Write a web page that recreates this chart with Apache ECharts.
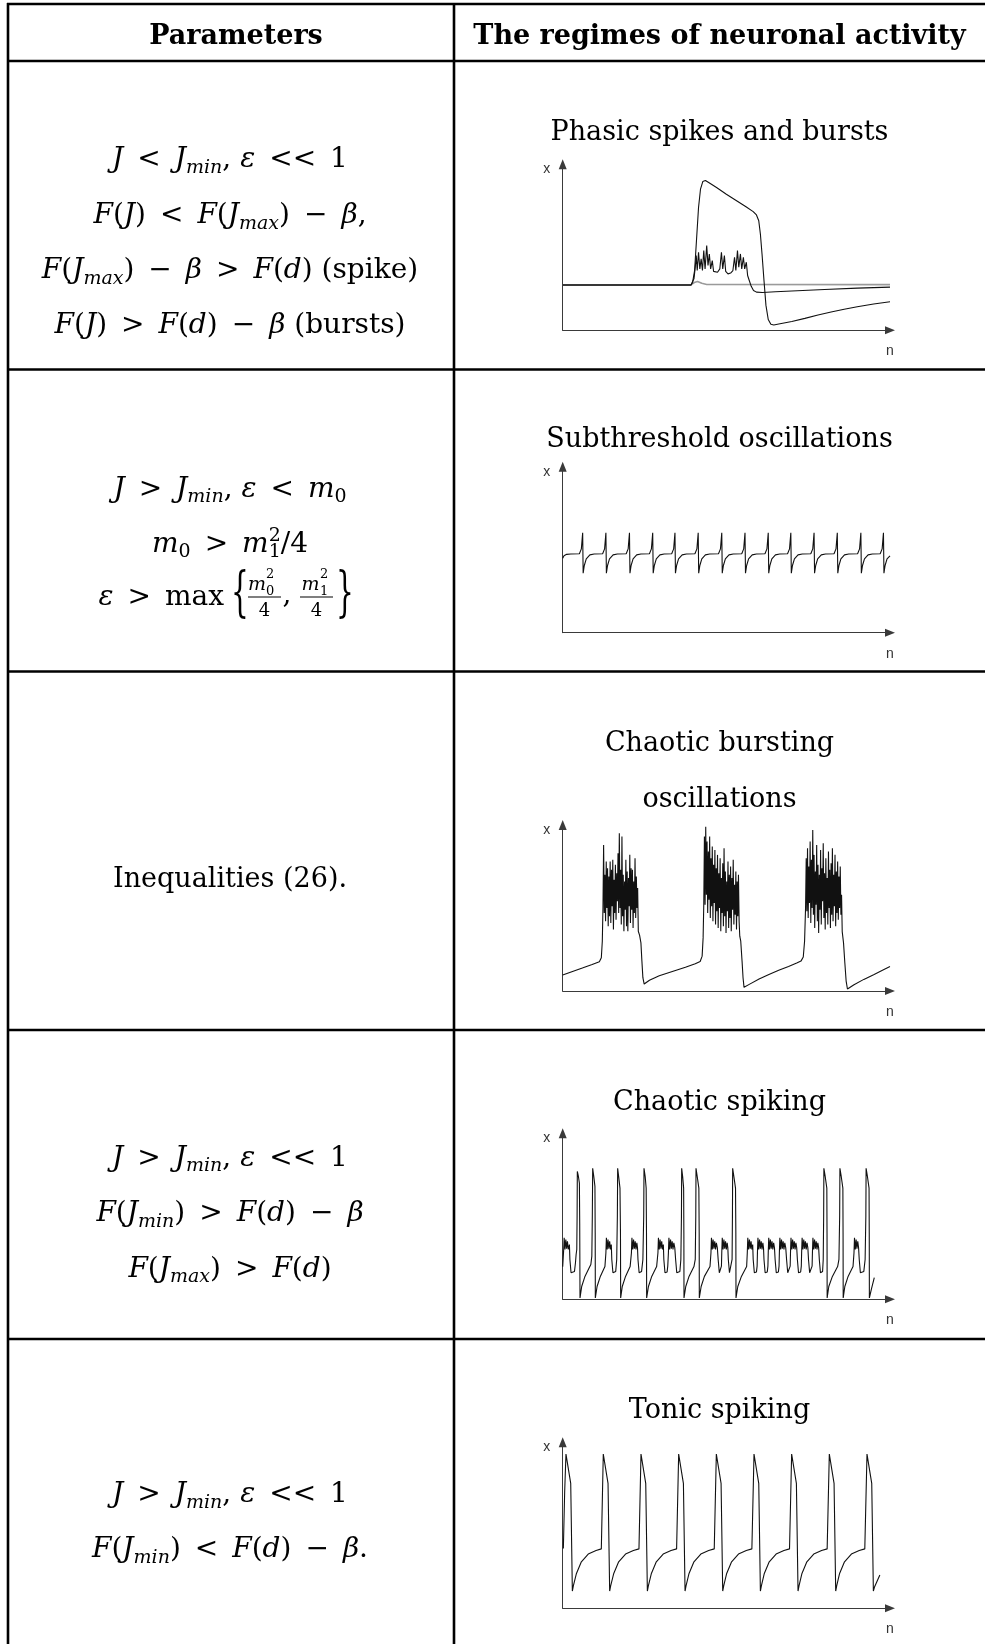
<!DOCTYPE html>
<html>
<head>
<meta charset="utf-8">
<title>The regimes of neuronal activity</title>
<script src="https://cdn.jsdelivr.net/npm/echarts@6/dist/echarts.min.js"></script>
<style>html,body{margin:0;padding:0;background:#fff;}</style>
</head>
<body>
<div id="main" style="width:985px;height:1644px;"></div>
<script type="text/javascript">
// regime titles (right column)
var regimeTitles = ['Phasic spikes and bursts', 'Subthreshold oscillations', 'Chaotic bursting\noscillations', 'Chaotic spiking', 'Tonic spiking'];

// traces, [n, x] in axis units 0..100
var phasicPlateau = [[0,27.3],[39.2,27.3],[39.7,29],[40.3,36],[40.9,55],[41.5,74],[42.1,85],[42.8,89.6],[43.6,90.2],[44.6,89],[47,86],[50,82],[53,78.2],[56,74.4],[58.2,71.5],[59.2,69.5],[59.9,66],[60.4,58],[60.9,46],[61.5,30],[62.1,15],[62.8,6.5],[63.6,3.6],[64.5,3.2],[66,3.8],[70,5.3],[74,7.2],[78,9.2],[82,11],[86,12.7],[90,14.2],[95,15.8],[100,17.2]];
var phasicBurst = [[0,27.3],[39.2,27.3],[39.7,28.5],[40.1,31],[40.5,38],[40.8,45],[41.1,36],[41.5,47],[41.9,37],[42.3,43],[42.7,36],[43.1,48],[43.5,37],[44.0,51],[44.4,39],[44.8,46],[45.2,37],[45.7,42],[46.1,35.5],[46.6,34.5],[47.3,35],[48.0,37],[48.5,47],[48.9,37],[49.4,45],[49.8,35.5],[50.5,34],[51.3,34.5],[52.0,36],[52.5,44],[52.9,36],[53.4,48],[53.8,38],[54.3,46],[54.7,37],[55.2,44],[55.6,37],[56.1,41],[56.5,33],[57.0,30],[57.6,26.5],[58.3,24],[59.2,23],[61,22.8],[65,23.2],[70,23.7],[80,24.6],[90,25.4],[100,26]];
var phasicGray = [[0,27.3],[39.2,27.3],[40.2,28.8],[41.2,29.4],[42.5,28.3],[44,27.6],[100,27.5]];

var subthreshold = [[0,44.8],[0.4,46.4],[1.2,47.2],[2.5,47.4],
[5.1,47.6],[5.7,50.5],[6.1,60.2],[6.25,35.8],[6.6,40.5],[7.2,44.5],[8.3,46.9],[9.6,47.4],
[12.2,47.6],[12.8,50.5],[13.2,60.2],[13.35,35.8],[13.7,40.5],[14.3,44.5],[15.4,46.9],[16.7,47.4],
[19.4,47.6],[20.0,50.5],[20.4,60.2],[20.55,35.8],[20.9,40.5],[21.5,44.5],[22.6,46.9],[23.9,47.4],
[26.5,47.6],[27.1,50.5],[27.5,60.2],[27.65,35.8],[28.0,40.5],[28.6,44.5],[29.7,46.9],[31.0,47.4],
[33.3,47.6],[33.9,50.5],[34.3,60.2],[34.45,35.8],[34.8,40.5],[35.4,44.5],[36.5,46.9],[37.8,47.4],
[40.4,47.6],[41.0,50.5],[41.4,60.2],[41.55,35.8],[41.9,40.5],[42.5,44.5],[43.6,46.9],[44.9,47.4],
[47.6,47.6],[48.2,50.5],[48.6,60.2],[48.75,35.8],[49.1,40.5],[49.7,44.5],[50.8,46.9],[52.1,47.4],
[54.7,47.6],[55.3,50.5],[55.7,60.2],[55.85,35.8],[56.2,40.5],[56.8,44.5],[57.9,46.9],[59.2,47.4],
[61.8,47.6],[62.4,50.5],[62.8,60.2],[62.95,35.8],[63.3,40.5],[63.9,44.5],[65.0,46.9],[66.3,47.4],
[68.7,47.6],[69.3,50.5],[69.7,60.2],[69.85,35.8],[70.2,40.5],[70.8,44.5],[71.9,46.9],[73.2,47.4],
[75.8,47.6],[76.4,50.5],[76.8,60.2],[76.95,35.8],[77.3,40.5],[77.9,44.5],[79.0,46.9],[80.3,47.4],
[82.9,47.6],[83.5,50.5],[83.9,60.2],[84.05,35.8],[84.4,40.5],[85.0,44.5],[86.1,46.9],[87.4,47.4],
[90.1,47.6],[90.7,50.5],[91.1,60.2],[91.25,35.8],[91.6,40.5],[92.2,44.5],[93.3,46.9],[94.6,47.4],
[97.0,47.6],[97.6,50.5],[98.0,60.2],[98.15,35.8],[98.5,40.5],[99.1,44.5],[100,46.3]];

var chaoticBursting = [[0,9.6],[3,11.8],[6,13.8],[9,15.9],[11.2,17.6],[11.8,20],[12.1,30],[12.3,50],
[12.5,88],[12.7,47],[12.9,70],[13.1,42],[13.3,78],[13.5,50],[13.7,74],[13.9,39],[14.1,69],[14.3,45],[14.5,78],[14.7,41],[14.9,73],[15.1,51],[15.3,79],[15.5,37],[15.7,67],[15.9,47],[16.1,76],[16.3,43],[16.5,71],[16.7,54],[16.9,83],[17.1,47],[17.3,95],[17.5,50],[17.7,73],[17.9,40],[18.1,93],[18.3,45],[18.5,70],[18.7,36],[18.9,66],[19.1,49],[19.3,79],[19.5,39],[19.7,72],[19.9,36],[20.1,68],[20.3,51],[20.5,82],[20.7,41],[20.9,74],[21.1,49],[21.3,73],[21.5,38],[21.7,66],[21.9,47],[22.1,80],[22.3,44],[22.5,69],[22.7,50],[22.9,62],
[23.1,36],[23.5,33.5],[23.9,29],[24.2,18],[24.5,8],[24.9,4.2],
[26.5,6.5],[29.5,9.2],[33.5,11.8],[37.5,14.3],[40.5,16.4],[42.0,17.8],[42.6,21],[42.9,32],[43.1,52],
[43.3,93],[43.5,52],[43.7,99],[43.9,58],[44.1,90],[44.3,47],[44.5,84],[44.7,55],[44.9,93],[45.1,44],[45.3,80],[45.5,51],[45.7,87],[45.9,42],[46.1,76],[46.3,53],[46.5,85],[46.7,40],[46.9,74],[47.1,48],[47.3,82],[47.5,38],[47.7,71],[47.9,50],[48.1,80],[48.3,36],[48.5,68],[48.7,47],[48.9,77],[49.1,39],[49.3,86],[49.5,45],[49.7,72],[49.9,35],[50.1,66],[50.3,48],[50.5,78],[50.7,38],[50.9,70],[51.1,44],[51.3,75],[51.5,36],[51.7,68],[51.9,49],[52.1,79],[52.3,40],[52.5,64],[52.7,46],[52.9,72],[53.1,37],[53.3,66],[53.5,45],[53.7,70],[53.9,42],
[54.1,33],[54.4,30],[54.8,18],[55.1,8],[55.4,2.2],
[57,4],[60,7.2],[63,10],[66,12.5],[69,14.8],[71.5,16.8],[72.8,18],[73.5,20.5],[73.9,30],[74.2,50],
[74.4,80],[74.6,48],[74.8,86],[75.0,44],[75.2,75],[75.4,53],[75.6,90],[75.8,41],[76.0,79],[76.2,50],[76.4,97],[76.6,46],[76.8,82],[77.0,38],[77.2,72],[77.4,52],[77.6,88],[77.8,42],[78.0,76],[78.2,35],[78.4,70],[78.6,49],[78.8,85],[79.0,40],[79.2,74],[79.4,54],[79.6,89],[79.8,44],[80.0,71],[80.2,37],[80.4,80],[80.6,47],[80.8,68],[81.0,40],[81.2,84],[81.4,50],[81.6,73],[81.8,38],[82.0,77],[82.2,46],[82.4,86],[82.6,42],[82.8,70],[83.0,51],[83.2,82],[83.4,39],[83.6,72],[83.8,47],[84.0,78],[84.2,43],[84.4,69],[84.6,50],[84.8,75],[85.0,46],[85.2,58],
[85.4,35.8],[85.8,29],[86.2,17],[86.6,6],[87.0,1.2],
[89,3.8],[92,7],[95,9.8],[98,12.8],[100,14.7]];

var chaoticSpiking = [[0,19.7],
[0.3,30],[0.45,37],[0.7,30],[0.95,36],[1.2,30.5],[1.45,35],[1.7,30],[2.05,33],[2.2,24],[2.55,16],
[3.6,16.8],[3.9,22],[4.1,27],[4.3,30],[4.4,50],[4.47,77],[4.8,74],[5.1,70],[5.2,45],[5.29,0.8],
[5.8,7.7],[6.8,13.8],[8.1,19],[8.6,21],[8.9,26],[9.05,50],[9.16,78.9],[9.5,74],[9.85,68],[9.93,40],[9.97,0.8],
[10.5,7.7],[11.5,13.8],[12.9,19.7],
[13.2,28],[13.35,37],[13.6,30],[13.85,36],[14.1,30.5],[14.35,35],[14.6,30],[14.85,33],[15.0,24],[15.35,16],
[16.2,16.8],[16.5,24],[16.7,50],[16.79,78.9],[17.1,74],[17.5,67],[17.65,40],[17.71,0.8],
[18.2,7.7],[19.2,13.8],[20.6,19.7],
[21.0,28],[21.15,37],[21.4,30],[21.65,36],[21.9,30.5],[22.15,35],[22.4,30],[22.65,34],[22.85,31],[23.0,24],[23.35,16],
[24.1,16.8],[24.5,24],[24.75,50],[24.84,78.9],[25.2,74],[25.5,67],[25.6,40],[25.65,0.8],
[26.2,7.7],[27.2,13.8],[28.7,19.7],
[29.1,28],[29.25,37],[29.5,30],[29.75,36],[30.0,30.5],[30.25,35],[30.5,30],[30.75,33],[30.9,24],[31.25,16],
[31.9,16.5],[32.1,20],
[32.3,28],[32.45,37],[32.7,30],[32.95,36],[33.2,30.5],[33.45,35],[33.7,30],[33.95,34],[34.25,31],[34.5,24],[34.85,16],
[35.8,16.8],[36.1,24],[36.28,50],[36.35,78.9],[36.65,74],[36.95,67],[37.02,40],[37.06,0.8],
[37.6,7.7],[38.6,13.8],[40.1,19.7],[40.5,24],[40.66,50],[40.73,78.9],[41.1,74],[41.6,67],[41.7,40],[41.74,0.8],
[42.3,7.7],[43.3,13.8],[45.0,19.7],
[45.3,28],[45.45,37],[45.7,30],[45.95,36],[46.2,30.5],[46.45,35],[46.7,30],[46.95,34],[47.25,31],[47.5,24],[47.85,16],
[48.3,16.5],[48.5,20],
[48.6,28],[48.75,37],[49.0,30],[49.25,36],[49.5,30.5],[49.75,35],[50.0,30],[50.25,34],[50.45,31],[50.6,24],[50.95,16],
[51.5,16.8],[51.75,24],[51.86,50],[51.93,78.9],[52.3,74],[52.8,67],[52.9,40],[52.95,0.8],
[53.5,7.7],[54.6,13.8],[56.2,19.7],
[56.4,28],[56.55,37],[56.8,30],[57.05,36],[57.3,30.5],[57.55,35],[57.8,30],[58.05,33],[58.2,24],[58.55,16],
[59.2,16.5],[59.4,20],
[59.5,28],[59.65,37],[59.9,30],[60.15,36],[60.4,30.5],[60.65,35],[60.9,30],[61.15,34],[61.35,31],[61.5,24],[61.85,16],
[62.5,16.5],[62.7,20],
[62.8,28],[62.95,37],[63.2,30],[63.45,36],[63.7,30.5],[63.95,35],[64.2,30],[64.45,34],[64.7,31],[64.9,24],[65.25,16],
[65.9,16.5],[66.1,20],
[66.2,28],[66.35,37],[66.6,30],[66.85,36],[67.1,30.5],[67.35,35],[67.6,30],[67.85,34],[68.15,31],[68.4,24],[68.75,16],
[69.3,16.5],[69.5,20],
[69.6,28],[69.75,37],[70.0,30],[70.25,36],[70.5,30.5],[70.75,35],[71.0,30],[71.25,34],[71.5,31],[71.7,24],[72.05,16],
[72.7,16.5],[72.9,20],
[73.0,28],[73.15,37],[73.4,30],[73.65,36],[73.9,30.5],[74.15,35],[74.4,30],[74.65,34],[74.9,31],[75.1,24],[75.45,16],
[76.0,16.5],[76.2,20],
[76.3,28],[76.45,37],[76.7,30],[76.95,36],[77.2,30.5],[77.45,35],[77.7,30],[77.95,34],[78.2,31],[78.4,24],[78.75,16],
[79.4,16.8],[79.6,24],[79.73,50],[79.8,78.9],[80.2,74],[80.7,67],[80.76,40],[80.8,0.8],
[81.3,7.7],[82.4,13.8],[84.0,19.7],[84.4,24],[84.62,50],[84.7,78.9],[85.1,74],[85.6,67],[85.66,40],[85.7,0.8],
[86.2,7.7],[87.2,13.8],[88.7,19.7],
[89.0,28],[89.15,37],[89.4,30],[89.65,36],[89.9,30.5],[90.15,35],[90.4,31],[90.6,24],[90.95,16],
[92.0,16.8],[92.4,24],[92.62,50],[92.7,78.9],[93.1,74],[93.6,67],[93.66,40],[93.7,0.8],
[94.3,6],[95.2,13]];

var tonicSpiking = [[0.2,36],[0.6,70],[1.0,92.9],[2.45,75.3],[2.95,10.4],[3.25,13.5],[4.2,21],[5.7,28],[7.8,32.7],[10.2,34.8],[11.8,35.8],
[12.1,36.5],[12.4,92.9],[13.85,75.3],[14.35,10.4],[14.65,13.5],[15.6,21],[17.1,28],[19.2,32.7],[21.6,34.8],[23.3,35.8],
[23.62,36.5],[23.92,92.9],[25.37,75.3],[25.87,10.4],[26.17,13.5],[27.1,21],[28.6,28],[30.7,32.7],[33.1,34.8],[34.8,35.8],
[35.13,36.5],[35.43,92.9],[36.88,75.3],[37.38,10.4],[37.68,13.5],[38.6,21],[40.1,28],[42.2,32.7],[44.6,34.8],[46.3,35.8],
[46.64,36.5],[46.94,92.9],[48.39,75.3],[48.89,10.4],[49.19,13.5],[50.1,21],[51.6,28],[53.7,32.7],[56.1,34.8],[57.8,35.8],
[58.15,36.5],[58.45,92.9],[59.9,75.3],[60.4,10.4],[60.7,13.5],[61.6,21],[63.1,28],[65.2,32.7],[67.6,34.8],[69.3,35.8],
[69.65,36.5],[69.95,92.9],[71.4,75.3],[71.9,10.4],[72.2,13.5],[73.1,21],[74.6,28],[76.7,32.7],[79.1,34.8],[80.8,35.8],
[81.16,36.5],[81.46,92.9],[82.91,75.3],[83.41,10.4],[83.71,13.5],[84.6,21],[86.1,28],[88.2,32.7],[90.6,34.8],[92.3,35.8],
[92.67,36.5],[92.97,92.9],[94.42,75.3],[94.92,10.4],[95.3,13],[96.9,20]];

var myChart = echarts.init(document.getElementById('main'), null, {renderer: 'canvas'});

var FF = 'DejaVu Serif';
var R = {
    i:  {fontSize: 28, fontFamily: FF, fontStyle: 'italic', align: 'left'},
    r:  {fontSize: 28, fontFamily: FF, align: 'left'},
    s:  {fontSize: 19, fontFamily: FF, fontStyle: 'italic', align: 'left', padding: [16, 0, 0, 0]},
    sr: {fontSize: 19, fontFamily: FF, align: 'left', padding: [16, 0, 0, 0]},
    z:  {fontSize: 19, fontFamily: FF, align: 'left', padding: [16, 0, 0, 0], width: 0},
    p:  {fontSize: 19, fontFamily: FF, align: 'left', padding: [0, 0, 17, 0]}
};
var S = '\u2002'; // wider gap round relations, as in the typeset original

function mathText(str, x, y) {
    return {type: 'text', x: x, y: y, silent: true,
        style: {text: str, fontSize: 28, fontFamily: FF, fill: '#000', align: 'center', verticalAlign: 'middle', lineHeight: 38, rich: R}};
}
function plain(str, x, y, size, opts) {
    var st = {text: str, fontSize: size, fontFamily: FF, fill: '#000', align: 'center', verticalAlign: 'middle'};
    for (var k in opts) st[k] = opts[k];
    return {type: 'text', x: x, y: y, silent: true, style: st};
}
function hline(y) {
    return {type: 'line', silent: true, shape: {x1: 7, y1: y, x2: 985, y2: y}, style: {stroke: '#000', lineWidth: 2.6}};
}
function vline(x) {
    return {type: 'line', silent: true, shape: {x1: x, y1: 3, x2: x, y2: 1644}, style: {stroke: '#000', lineWidth: 2.6}};
}

var colX = 230, colR = 719.5;
var graphics = [
    hline(4), hline(61), hline(369.5), hline(671.5), hline(1030), hline(1339),
    vline(8), vline(454),
    plain('Parameters', 236, 36.5, 27, {fontWeight: 'bold'}),
    plain('The regimes of neuronal activity', colR, 36.5, 27, {fontWeight: 'bold'}),

    mathText('{i|J}{r|' + S + '<' + S + '}{i|J}{s|min}{r|, }{i|ε}{r|' + S + '<<' + S + '1}', colX, 160),
    mathText('{i|F}{r|(}{i|J}{r|)' + S + '<' + S + '}{i|F}{r|(}{i|J}{s|max}{r|)' + S + '−' + S + '}{i|β}{r|,}', colX, 216),
    mathText('{i|F}{r|(}{i|J}{s|max}{r|)' + S + '−' + S + '}{i|β}{r|' + S + '>' + S + '}{i|F}{r|(}{i|d}{r|) (spike)}', colX, 271),
    mathText('{i|F}{r|(}{i|J}{r|)' + S + '>' + S + '}{i|F}{r|(}{i|d}{r|)' + S + '−' + S + '}{i|β}{r| (bursts)}', colX, 326),

    mathText('{i|J}{r|' + S + '>' + S + '}{i|J}{s|min}{r|, }{i|ε}{r|' + S + '<' + S + '}{i|m}{sr|0}', colX, 489.5),
    mathText('{i|m}{sr|0}{r|' + S + '>' + S + '}{i|m}{z|1}{p|2}{r|/4}', colX, 544.5),
    // eps > max { m0^2/4 , m1^2/4 }
    {type: 'text', x: 224, y: 598, silent: true,
        style: {text: '{i|ε}{r|' + S + '>' + S + 'max}', fontSize: 28, fontFamily: FF, fill: '#000', align: 'right', verticalAlign: 'middle', lineHeight: 38, rich: R}},
    {type: 'text', x: 240, y: 596, scaleY: 1.95, silent: true, style: {text: '{', fontSize: 28, fontFamily: FF, fill: '#000', align: 'center', verticalAlign: 'middle'}},
    {type: 'text', x: 345, y: 596, scaleY: 1.95, silent: true, style: {text: '}', fontSize: 28, fontFamily: FF, fill: '#000', align: 'center', verticalAlign: 'middle'}},
    plain('m', 257, 585, 19, {fontStyle: 'italic'}),
    plain('2', 266, 575, 13, {align: 'left'}),
    plain('0', 266, 592, 13, {align: 'left'}),
    {type: 'line', silent: true, shape: {x1: 248, y1: 597, x2: 281, y2: 597}, style: {stroke: '#000', lineWidth: 1.2}},
    plain('4', 264.5, 611, 18),
    plain(',', 287, 596, 28),
    plain('m', 310.5, 585, 19, {fontStyle: 'italic'}),
    plain('2', 320, 575, 13, {align: 'left'}),
    plain('1', 320, 592, 13, {align: 'left'}),
    {type: 'line', silent: true, shape: {x1: 300, y1: 597, x2: 333, y2: 597}, style: {stroke: '#000', lineWidth: 1.2}},
    plain('4', 316.5, 611, 18),

    plain('Inequalities (26).', colX, 880, 27),

    mathText('{i|J}{r|' + S + '>' + S + '}{i|J}{s|min}{r|, }{i|ε}{r|' + S + '<<' + S + '1}', colX, 1158.5),
    mathText('{i|F}{r|(}{i|J}{s|min}{r|)' + S + '>' + S + '}{i|F}{r|(}{i|d}{r|)' + S + '−' + S + '}{i|β}', colX, 1214),
    mathText('{i|F}{r|(}{i|J}{s|max}{r|)' + S + '>' + S + '}{i|F}{r|(}{i|d}{r|)}', colX, 1269.5),

    mathText('{i|J}{r|' + S + '>' + S + '}{i|J}{s|min}{r|, }{i|ε}{r|' + S + '<<' + S + '1}', colX, 1495),
    mathText('{i|F}{r|(}{i|J}{s|min}{r|)' + S + '<' + S + '}{i|F}{r|(}{i|d}{r|)' + S + '−' + S + '}{i|β}{r|.}', colX, 1550),

    plain(regimeTitles[0], colR, 133, 27),
    plain(regimeTitles[1], colR, 439.5, 27),
    plain('Chaotic bursting', colR, 744, 27),
    plain('oscillations', colR, 799.5, 27),
    plain(regimeTitles[3], colR, 1103, 27),
    plain(regimeTitles[4], colR, 1411, 27)
];

// panel placement (x axis baseline of each small plot)
var axisYs = [330.3, 632.7, 991, 1299.3, 1608.3];
var panelSeries = [
    [{data: phasicGray, color: '#9a9a9a', width: 1.6}, {data: phasicBurst}, {data: phasicPlateau}],
    [{data: subthreshold}],
    [{data: chaoticBursting}],
    [{data: chaoticSpiking}],
    [{data: tonicSpiking}]
];

var grids = [], xAxes = [], yAxes = [], series = [];
var axisLine = {show: true, onZero: false, symbol: ['none', 'triangle'], symbolSize: [8, 10], lineStyle: {color: '#3a3a3a', width: 1}};
axisYs.forEach(function (ay, i) {
    grids.push({left: 562.7, top: ay - 166, width: 327.3, height: 166});
    xAxes.push({gridIndex: i, type: 'value', min: 0, max: 100, axisLine: axisLine, axisTick: {show: false}, axisLabel: {show: false}, splitLine: {show: false}});
    yAxes.push({gridIndex: i, type: 'value', min: 0, max: 100, axisLine: axisLine, axisTick: {show: false}, axisLabel: {show: false}, splitLine: {show: false}});
    panelSeries[i].forEach(function (s) {
        series.push({type: 'line', xAxisIndex: i, yAxisIndex: i, data: s.data, showSymbol: false, symbol: 'none', silent: true,
            lineStyle: {color: s.color || '#111', width: s.width || 1.1}});
    });
    graphics.push({type: 'text', x: 546.7, y: ay - 161, silent: true, style: {text: 'x', fontSize: 14, fontFamily: 'Liberation Sans', fill: '#333', align: 'center', verticalAlign: 'middle'}});
    graphics.push({type: 'text', x: 890, y: ay + 21, silent: true, style: {text: 'n', fontSize: 14, fontFamily: 'Liberation Sans', fill: '#333', align: 'center', verticalAlign: 'middle'}});
});

var option = {
    animation: false,
    backgroundColor: '#fff',
    grid: grids,
    xAxis: xAxes,
    yAxis: yAxes,
    series: series,
    graphic: {elements: graphics}
};
myChart.setOption(option);
</script>
</body>
</html>
